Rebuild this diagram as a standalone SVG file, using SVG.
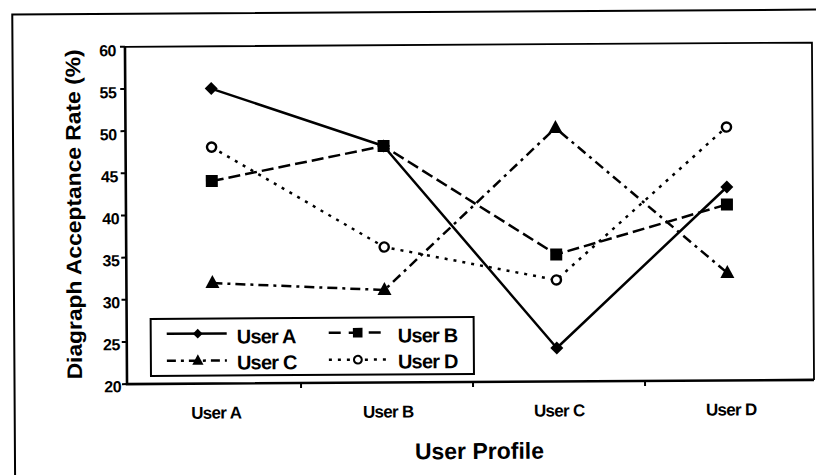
<svg xmlns="http://www.w3.org/2000/svg" xmlns:xlink="http://www.w3.org/1999/xlink" width="816" height="475" viewBox="0 0 816 475" overflow="hidden">
  <style>
    .frame { fill: none; stroke: #000; stroke-width: 2; }
    .axis { fill: none; stroke: #000; stroke-width: 2.6; }
    .border { fill: none; stroke: #000; stroke-width: 1.8; }
    .tick { stroke: #000; stroke-width: 2; }
    .ser { fill: none; stroke: #000; stroke-width: 2.5; stroke-linejoin: round; }
    .sA { }
    .sB { stroke-dasharray: 12 5; }
    .sC { stroke-dasharray: 10 5 3 5; }
    .sD { stroke-dasharray: 3 6; }
    .mk { fill: #000; stroke: none; }
    .mo { fill: #fff; stroke: #000; stroke-width: 2.4; }
    .ytl { font-family: "Liberation Sans", Arial, sans-serif; font-size: 16px; font-weight: bold; letter-spacing: -0.5px; text-anchor: end; fill: #000; }
    .xtl { font-family: "Liberation Sans", Arial, sans-serif; font-size: 17px; font-weight: bold; letter-spacing: -0.7px; text-anchor: middle; fill: #000; }
    .ttl { font-family: "Liberation Sans", Arial, sans-serif; font-weight: bold; fill: #000; }
    .lg { font-family: "Liberation Sans", Arial, sans-serif; font-size: 20px; font-weight: bold; letter-spacing: -0.8px; fill: #000; }
  </style>
  <defs>
    <path id="dia" d="M0,-6.5 L6.5,0 L0,6.5 L-6.5,0 Z"/>
    <path id="sq" d="M-6,-6 H6 V6 H-6 Z"/>
    <path id="tri" d="M0,-8 L7,5 L-7,5 Z"/>
    <circle id="cir" r="4.6"/>
  </defs>
  <rect x="0" y="0" width="816" height="475" fill="#fff"/>
  <g transform="rotate(-0.35 470 215)">
    <g id="outer-frame">
      <path class="frame" d="M13.5,478 V11.7 H819"/>
    </g>
    <g id="plot-area">
      <path class="border" d="M126,44.7 H813 V382"/>
      <path class="axis" d="M126,44.7 V382 H813"/>
      <g id="y-ticks">
        <path class="tick" d="M121,44.7 H126 M121,86.9 H126 M121,129 H126 M121,171.2 H126 M121,213.4 H126 M121,255.5 H126 M121,297.7 H126 M121,339.9 H126 M121,382 H126"/>
      </g>
      <g id="x-ticks">
        <path class="tick" d="M300,382 V387 M472,382 V387 M644,382 V387"/>
      </g>
    </g>
    <g id="y-tick-labels">
      <text class="ytl" x="117" y="54">60</text>
      <text class="ytl" x="117" y="96">55</text>
      <text class="ytl" x="117" y="138">50</text>
      <text class="ytl" x="118" y="180">45</text>
      <text class="ytl" x="119" y="222">40</text>
      <text class="ytl" x="119" y="264">35</text>
      <text class="ytl" x="119" y="306">30</text>
      <text class="ytl" x="119" y="348">25</text>
      <text class="ytl" x="120" y="390">20</text>
    </g>
    <g id="x-tick-labels">
      <text class="xtl" x="215" y="417">User A</text>
      <text class="xtl" x="387" y="417">User B</text>
      <text class="xtl" x="558" y="417">User C</text>
      <text class="xtl" x="730" y="417">User D</text>
    </g>
    <g id="axis-titles">
      <text class="ttl" font-size="21" text-anchor="middle" transform="translate(81,212) rotate(-90)" textLength="330" lengthAdjust="spacingAndGlyphs">Diagraph Acceptance Rate (%)</text>
      <text class="ttl" font-size="23" text-anchor="middle" x="478" y="459">User Profile</text>
    </g>
    <g id="connectors">
      <polyline id="line-user-a" class="ser sA" points="212,87 384,145.5 556,348.5 727,188.6"/>
      <polyline id="line-user-b" class="ser sB" points="212,179.5 384,145.5 556,255 727,206"/>
      <polyline id="line-user-c" class="ser sC" points="212,281.5 384,289.5 556,128.5 727,274.5"/>
      <polyline id="line-user-d" class="ser sD" points="212,145.5 384,246.5 556,280.5 727,128.6"/>
    </g>
    <g id="markers-user-a" class="mk">
      <use xlink:href="#dia" x="212" y="87"/>
      <use xlink:href="#dia" x="384" y="145.5"/>
      <use xlink:href="#dia" x="556" y="348.5"/>
      <use xlink:href="#dia" x="727" y="188.6"/>
    </g>
    <g id="markers-user-b" class="mk">
      <use xlink:href="#sq" x="212" y="179.5"/>
      <use xlink:href="#sq" x="384" y="145.5"/>
      <use xlink:href="#sq" x="556" y="255"/>
      <use xlink:href="#sq" x="727" y="206"/>
    </g>
    <g id="markers-user-c" class="mk">
      <use xlink:href="#tri" x="212" y="281.5"/>
      <use xlink:href="#tri" x="384" y="289.5"/>
      <use xlink:href="#tri" x="556" y="128.5"/>
      <use xlink:href="#tri" x="727" y="274.5"/>
    </g>
    <g id="markers-user-d" class="mo">
      <use xlink:href="#cir" x="212" y="145.5"/>
      <use xlink:href="#cir" x="384" y="246.5"/>
      <use xlink:href="#cir" x="556" y="280.5"/>
      <use xlink:href="#cir" x="727" y="128.6"/>
    </g>
    <g id="legend">
      <rect x="150" y="317" width="323" height="57" fill="#fff" stroke="#000" stroke-width="2"/>
      <g id="legend-user-a">
        <line class="ser sA" x1="166" y1="332" x2="226" y2="332"/>
        <use class="mk" xlink:href="#dia" transform="translate(197,332) scale(0.75)"/>
        <text class="lg" x="236" y="342">User A</text>
      </g>
      <g id="legend-user-b">
        <line class="ser" stroke-dasharray="12 8" x1="328" y1="332" x2="388" y2="332"/>
        <use class="mk" xlink:href="#sq" transform="translate(357,332) scale(0.8)"/>
        <text class="lg" x="397" y="342">User B</text>
      </g>
      <g id="legend-user-c">
        <line class="ser" stroke-dasharray="9 5 3 5" x1="166" y1="359" x2="226" y2="359"/>
        <use class="mk" xlink:href="#tri" transform="translate(197,359) scale(0.8)"/>
        <text class="lg" x="236" y="368">User C</text>
      </g>
      <g id="legend-user-d">
        <line class="ser sD" x1="328" y1="359" x2="388" y2="359"/>
        <use class="mo" xlink:href="#cir" transform="translate(357,359) scale(0.85)"/>
        <text class="lg" x="397" y="368">User D</text>
      </g>
    </g>
  </g>
</svg>
